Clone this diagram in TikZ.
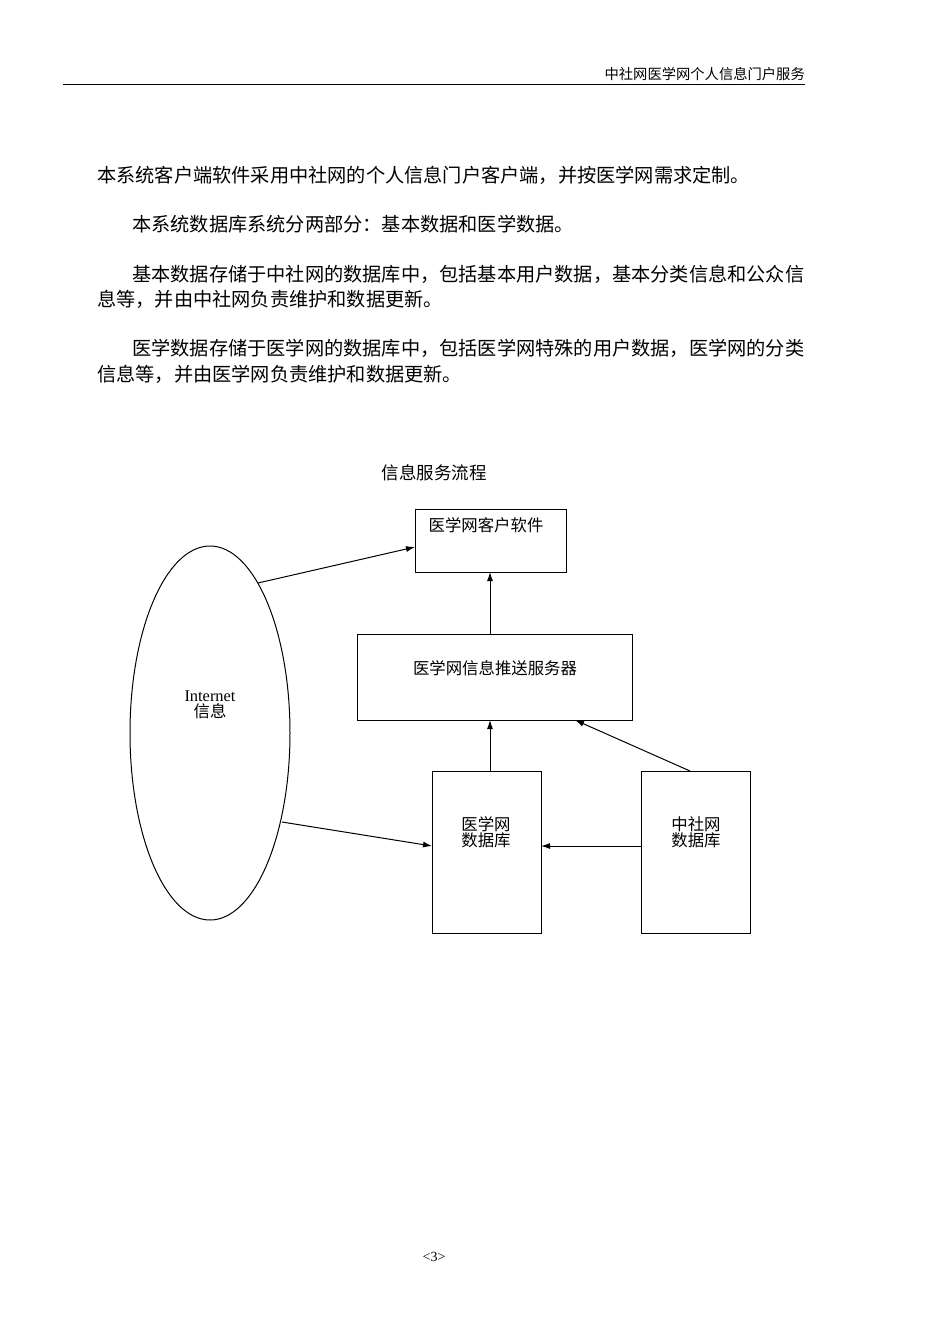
\documentclass[tikz,border=0pt]{standalone}
\usepackage{fontspec}
\setmainfont{Liberation Serif}
\newfontfamily\cjk{Noto Sans CJK SC}
\usetikzlibrary{arrows.meta}
\tikzset{
  body/.style={anchor=west,inner sep=0pt,font=\cjk\fontsize{19.2}{22}\selectfont},
  lbl/.style={inner sep=0pt,font=\cjk\fontsize{16.4}{19}\selectfont,align=center},
  box/.style={draw,line width=1pt},
  arr/.style={-{Latex[length=9pt,width=6pt]},line width=1pt}
}
\begin{document}
\begin{tikzpicture}[x=1pt,y=-1pt]
\useasboundingbox (0,0) rectangle (950,1344);
% header
\node[anchor=east,inner sep=0pt,font=\cjk\fontsize{14.3}{16}\selectfont] (hdr) at (805,74) {中社网医学网个人信息门户服务};
\draw[line width=1pt] (63,84) -- (805,84);
% body text
\node[body] (p1) at (97,175) {本系统客户端软件采用中社网的个人信息门户客户端，并按医学网需求定制。};
\node[body] (p2) at (132,224) {本系统数据库系统分两部分：基本数据和医学数据。};
\node[body] (p3a) at (132,274) {基本数据存储于中社网的数据库中，包括基本用户数据，基本分类信息和公众信};
\node[body] (p3b) at (97,299) {息等，并由中社网负责维护和数据更新。};
\node[body] (p4a) at (132,348) {医学数据存储于医学网的数据库中，包括医学网特殊的用户数据，医学网的分类};
\node[body] (p4b) at (97,374) {信息等，并由医学网负责维护和数据更新。};
% diagram
\node[lbl,font=\cjk\fontsize{17.5}{20}\selectfont] (title) at (434,473) {信息服务流程};
\draw[box] (415,509) rectangle (566,572);
\node[lbl] (c) at (486,525) {医学网客户软件};
\draw[box] (357,634) rectangle (632,720);
\node[lbl] (s) at (495,668) {医学网信息推送服务器};
\draw[box] (432,771) rectangle (541,933);
\node[lbl] (m) at (486,832) {医学网\\[-3pt]数据库};
\draw[box] (641,771) rectangle (750,933);
\node[lbl] (z) at (696,832) {中社网\\[-3pt]数据库};
\draw[line width=1pt] (210,733) ellipse [x radius=80, y radius=187];
\node[lbl] (i) at (210,705) {\rmfamily Internet\\[-3pt]信息};
\coordinate (e1) at (258,583); \coordinate (b1) at (415,547);
\coordinate (b2t) at (490,634); \coordinate (b1b) at (490,572);
\coordinate (b3t) at (490,771); \coordinate (b2b) at (490,720);
\coordinate (b4t) at (690,771); \coordinate (b2r) at (575,720);
\coordinate (b4l) at (641,846); \coordinate (b3r) at (541,846);
\coordinate (e2) at (282,822); \coordinate (b3l) at (432,846);
\draw[arr] (e1) -- (b1);
\draw[arr] (b2t) -- (b1b);
\draw[arr] (b3t) -- (b2b);
\draw[arr] (b4t) -- (b2r);
\draw[arr] (b4l) -- (b3r);
\draw[arr] (e2) -- (b3l);
\node[inner sep=0pt,font=\fontsize{14}{16}\selectfont] (pg) at (434,1257) {<3>};
\end{tikzpicture}
\end{document}
